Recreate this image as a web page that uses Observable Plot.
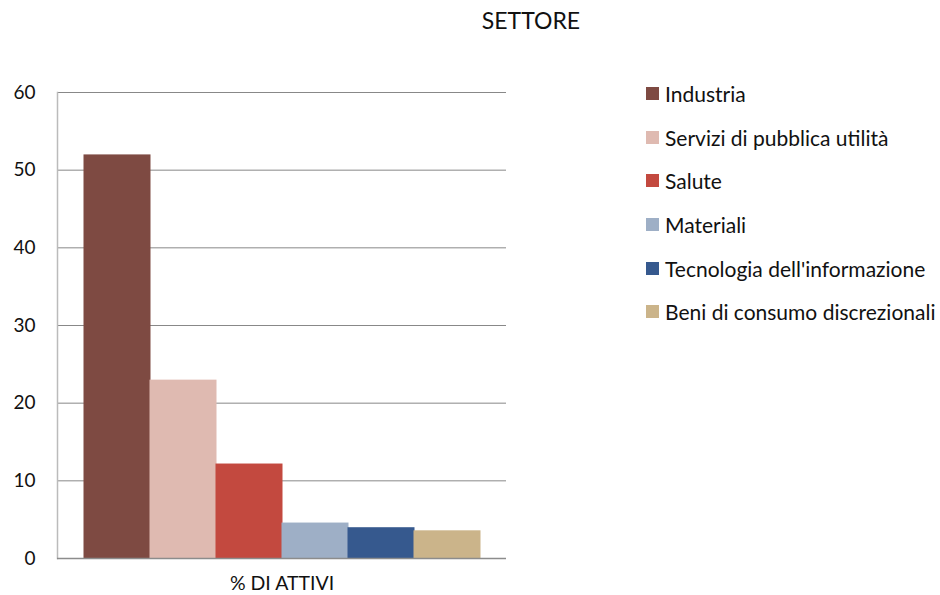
<!DOCTYPE html>
<html>
<head>
<meta charset="utf-8">
<script src="https://cdn.jsdelivr.net/npm/d3@7"></script>
<script src="https://cdn.jsdelivr.net/npm/@observablehq/plot@0.6"></script>
<style>
  body { margin: 0; background: #fff; font-family: Lato, "Open Sans", sans-serif; }
  #wrap { position: relative; width: 940px; height: 595px; overflow: hidden; }
  #title { position: absolute; left: 431px; width: 200px; top: 5px; text-align: center; font-size: 23px; color: #111; line-height: 30px; }
  #legend { position: absolute; left: 646px; top: 72px; font-size: 21px; color: #111; }
  .row { height: 43.6px; display: flex; align-items: center; white-space: nowrap; }
  .sw { width: 13px; height: 13px; margin-right: 6px; flex: none; }
</style>
</head>
<body>
<div id="wrap">
  <div id="title">SETTORE</div>
  <div id="legend"></div>
</div>
<script>
const sectors = ["Industria", "Servizi di pubblica utilità", "Salute", "Materiali", "Tecnologia dell'informazione", "Beni di consumo discrezionali"];
const values = [51.9, 22.9, 12.1, 4.5, 3.9, 3.5];
const colors = ["#7E4A42", "#DFBAB1", "#C3493F", "#9EAFC6", "#36598E", "#CBB48A"];
const yTicks = [0, 10, 20, 30, 40, 50, 60];
const groupLabel = "% DI ATTIVI";

const data = sectors.map((s, i) => ({sector: s, value: values[i]}));

const chart = Plot.plot({
  width: 940,
  height: 595,
  marginLeft: 57,
  marginRight: 434,
  marginTop: 92,
  marginBottom: 37,
  style: {fontFamily: "Lato, 'Open Sans', sans-serif", fontSize: "19px", color: "#111", background: "transparent"},
  x: {domain: sectors, paddingInner: 0, paddingOuter: 0.375, axis: null},
  y: {domain: [0, 60], axis: null},
  color: {domain: sectors, range: colors},
  marks: [
    Plot.gridY(yTicks, {stroke: "#888", strokeOpacity: 1, strokeWidth: 1}),
    Plot.frame({anchor: "left", stroke: "#bbb", strokeWidth: 1.5}),
    Plot.barY(data, {x: "sector", y: "value", fill: "sector", inset: -0.5}),
    Plot.ruleY([0], {stroke: "#8c8c8c", strokeWidth: 1.5}),
    Plot.axisY(yTicks, {tickSize: 0, tickPadding: 22, fontSize: 19, tickFormat: d => d, label: null}),
    Plot.text([groupLabel], {frameAnchor: "bottom", lineAnchor: "middle", dy: 25, fontSize: 19.5})
  ]
});
chart.style.position = "absolute";
chart.style.left = "0";
chart.style.top = "0";
document.getElementById("wrap").prepend(chart);

const legend = document.getElementById("legend");
sectors.forEach((s, i) => {
  const row = document.createElement("div");
  row.className = "row";
  const sw = document.createElement("div");
  sw.className = "sw";
  sw.style.background = colors[i];
  const t = document.createElement("span");
  t.textContent = s;
  row.append(sw, t);
  legend.append(row);
});
</script>
</body>
</html>
